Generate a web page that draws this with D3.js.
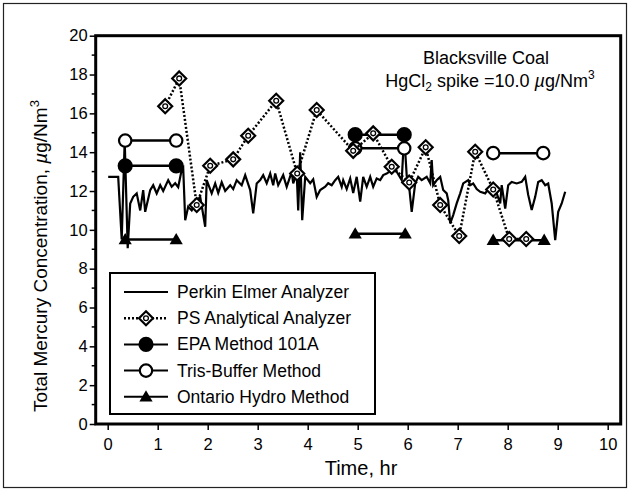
<!DOCTYPE html>
<html>
<head>
<meta charset="utf-8">
<script src="https://cdn.jsdelivr.net/npm/d3@7"></script>
<style>
  body { margin: 0; background: #fff; }
  text { font-family: "Liberation Sans", Arial, Helvetica, sans-serif; fill: #000; }
</style>
</head>
<body>
<script>
"use strict";

// Perkin Elmer analyzer trace (time in hr, Hg in ug/Nm3)
const perkinTime = [0.01,0.21,0.28,0.34,0.40,0.45,0.51,0.58,0.65,0.71,0.75,0.85,0.91,0.98,1.05,1.11,1.21,1.28,1.35,1.41,
  1.48,1.51,1.55,1.61,1.68,1.78,1.85,1.95,1.98,2.08,2.15,2.21,2.28,2.35,2.45,2.51,2.58,2.68,2.75,2.85,
  2.91,2.98,3.05,3.11,3.18,3.25,3.31,3.35,3.41,3.51,3.58,3.68,3.71,3.78,3.81,3.85,3.89,3.95,4.05,4.11,
  4.18,4.25,4.35,4.41,4.48,4.55,4.61,4.68,4.71,4.78,4.85,4.91,4.98,5.05,5.11,5.18,5.25,5.31,5.38,5.45,
  5.51,5.58,5.68,5.78,5.88,5.93,5.98,6.03,6.08,6.15,6.21,6.28,6.38,6.45,6.48,6.51,6.58,6.65,6.71,6.78,
  6.81,6.85,6.91,6.98,7.05,7.11,7.21,7.25,7.31,7.38,7.45,7.55,7.61,7.68,7.78,7.85,7.88,7.95,8.01,8.08,
  8.18,8.28,8.35,8.41,8.48,8.55,8.61,8.68,8.75,8.81,8.88,8.95,9.01,9.08,9.15]
const perkinHg = [12.73,12.73,9.5,14.6,9.05,11.36,11.7,11.88,11.0,12.05,10.93,12.05,12.3,11.88,12.3,12.0,12.56,12.22,12.4,12.2,
  13.1,13.2,10.5,11.19,11.0,11.5,11.7,10.16,12.56,11.88,12.39,11.9,12.45,12.0,12.3,12.1,12.56,12.3,12.82,12.05,
  10.85,12.39,12.56,12.82,12.4,12.9,12.3,12.9,12.3,12.82,12.22,12.99,12.4,12.9,11.0,14.0,10.5,12.73,12.4,12.6,
  11.7,12.05,12.22,12.4,12.3,12.56,12.73,12.22,12.56,12.1,12.65,11.9,12.73,11.45,12.73,12.22,12.73,12.22,12.65,12.56,
  12.82,12.9,13.08,12.99,12.56,14.9,12.8,12.2,10.93,12.39,12.73,12.56,12.73,12.4,13.6,12.3,12.56,12.73,12.05,11.88,
  11.53,10.33,10.76,11.36,11.88,12.39,12.56,12.3,12.39,12.1,11.96,11.88,12.1,12.2,11.88,11.36,12.3,11.1,12.3,12.47,
  12.39,12.47,12.73,11.8,11.02,11.7,12.47,12.56,12.3,12.39,11.36,9.47,10.93,11.36,11.96]

// PS Analytical analyzer
const psTime = [1.15,1.43,1.78,2.05,2.51,2.81,3.37,3.79,4.18,4.91,5.31,5.68,6.03,6.36,6.65,7.03,7.35,7.71,8.03,8.37]
const psHg = [16.37,17.8,11.28,13.3,13.63,14.85,16.65,12.9,16.17,14.07,14.97,13.25,12.44,14.25,11.28,9.68,14.02,12.08,9.53,9.53]

// sampling runs: [start, end] in hr, and the run result
const epaRuns = [[0.35,1.37],[4.95,5.93]]
const epaHg = [13.3,14.9]
const trisRuns = [[0.35,1.37],[4.95,5.93],[7.71,8.71]]
const trisHg = [14.6,14.2,13.95]
const ontarioRuns = [[0.35,1.37],[4.95,5.95],[7.71,8.73]]
const ontarioHg = [9.5,9.8,9.47]

const xTicks = [0,1,2,3,4,5,6,7,8,9,10]
const yTicks = [0,2,4,6,8,10,12,14,16,18,20]
const yMinor = [1,3,5,7,9,11,13,15,17,19]
const legendNames = ["Perkin Elmer Analyzer","PS Analytical Analyzer","EPA Method 101A","Tris-Buffer Method","Ontario Hydro Method"]

const W = 630, H = 491
const svg = d3.select("body").append("svg").attr("width", W).attr("height", H)

// outer frame
svg.append("rect").attr("x", 3.5).attr("y", 3.5).attr("width", W - 7).attr("height", H - 7)
  .attr("fill", "none").attr("stroke", "#222").attr("stroke-width", 1.2)

const x = d3.scaleLinear().domain([-0.24, 10.26]).range([95.7, 620.7])
const y = d3.scaleLinear().domain([0, 20]).range([424, 35.7])

// markers
const diamond = "M0,-7L7,0L0,7L-7,0Z"
const tri = d3.symbol().type(d3.symbolTriangle).size(75)

function drawDiamond(g, cx, cy) {
  g.append("path").attr("d", diamond).attr("transform", `translate(${cx},${cy})`)
    .attr("fill", "#fff").attr("stroke", "#000").attr("stroke-width", 2.2)
  g.append("circle").attr("cx", cx).attr("cy", cy).attr("r", 2.4)
    .attr("fill", "#fff").attr("stroke", "#000").attr("stroke-width", 1.3)
}
function drawCircle(g, cx, cy, filled) {
  g.append("circle").attr("cx", cx).attr("cy", cy).attr("r", filled ? 6.5 : 6.2)
    .attr("fill", filled ? "#000" : "#fff").attr("stroke", "#000").attr("stroke-width", 2.2)
}
function drawTri(g, cx, cy) {
  g.append("path").attr("d", tri).attr("transform", `translate(${cx},${cy + 1})`).attr("fill", "#000")
}

// axes
const yAxis = d3.axisLeft(y).tickValues(yTicks).tickSize(6).tickPadding(2).tickFormat(d3.format("d"))
const gy = svg.append("g").attr("transform", `translate(${x.range()[0]},0)`).call(yAxis)
gy.selectAll(".tick line").attr("stroke-width", 1.5)
svg.append("g").selectAll("line").data(yMinor).join("line")
  .attr("x1", x.range()[0] - 4).attr("x2", x.range()[0])
  .attr("y1", d => y(d)).attr("y2", d => y(d))
  .attr("stroke", "#000").attr("stroke-width", 1.5)

const xAxis = d3.axisBottom(x).tickValues(xTicks).tickSize(6).tickPadding(8).tickFormat(d3.format("d"))
const gx = svg.append("g").attr("transform", `translate(0,${y.range()[0]})`).call(xAxis)
gx.selectAll(".tick line").attr("stroke-width", 1.5)

for (const g of [gx, gy]) {
  g.select(".domain").remove()
  g.selectAll("text").attr("font-size", 16.5).attr("font-family", "Liberation Sans, Arial, sans-serif")
}

// plot box
svg.append("rect")
  .attr("x", x.range()[0]).attr("y", y.range()[1])
  .attr("width", x.range()[1] - x.range()[0]).attr("height", y.range()[0] - y.range()[1])
  .attr("fill", "none").attr("stroke", "#000").attr("stroke-width", 3)

// axis titles
svg.append("text").attr("x", 361).attr("y", 475)
  .attr("text-anchor", "middle").attr("font-size", 20).text("Time, hr")

const yt = svg.append("text").attr("transform", "translate(47,256) rotate(-90)")
  .attr("text-anchor", "middle").attr("font-size", 19)
yt.append("tspan").text("Total Mercury Concentration, ")
yt.append("tspan").attr("font-style", "italic").text("\u00b5")
yt.append("tspan").text("g/Nm")
yt.append("tspan").attr("font-size", 13).attr("dy", -8).text("3")

// annotation
svg.append("text").attr("x", 486).attr("y", 64).attr("text-anchor", "middle")
  .attr("font-size", 18).text("Blacksville Coal")
const ann = svg.append("text").attr("x", 490).attr("y", 87).attr("text-anchor", "middle").attr("font-size", 18)
ann.append("tspan").text("HgCl")
ann.append("tspan").attr("font-size", 12).attr("dy", 4).text("2")
ann.append("tspan").attr("dy", -4).text(" spike =10.0 ")
ann.append("tspan").attr("font-style", "italic").text("\u00b5")
ann.append("tspan").text("g/Nm")
ann.append("tspan").attr("font-size", 12).attr("dy", -8).text("3")

const plot = svg.append("g")

// Perkin Elmer trace
const line = d3.line().x(d => x(d[0])).y(d => y(d[1]))
plot.append("path").datum(d3.zip(perkinTime, perkinHg)).attr("d", line)
  .attr("fill", "none").attr("stroke", "#000").attr("stroke-width", 2.2)

// sampling run bars
function runs(times, vals, marker) {
  times.forEach((r, i) => {
    plot.append("line").attr("x1", x(r[0])).attr("x2", x(r[1]))
      .attr("y1", y(vals[i])).attr("y2", y(vals[i]))
      .attr("stroke", "#000").attr("stroke-width", 2.5)
    marker(plot, x(r[0]), y(vals[i]))
    marker(plot, x(r[1]), y(vals[i]))
  })
}
runs(ontarioRuns, ontarioHg, drawTri)
runs(trisRuns, trisHg, (g, a, b) => drawCircle(g, a, b, false))
runs(epaRuns, epaHg, (g, a, b) => drawCircle(g, a, b, true))

// PS Analytical dotted trace
plot.append("path").datum(d3.zip(psTime, psHg)).attr("d", line)
  .attr("fill", "none").attr("stroke", "#000").attr("stroke-width", 2.5).attr("stroke-dasharray", "2,2")
psTime.forEach((t, i) => drawDiamond(plot, x(t), y(psHg[i])))

// legend
const lg = svg.append("g")
lg.append("rect").attr("x", 110).attr("y", 273).attr("width", 265).attr("height", 141)
  .attr("fill", "#fff").attr("stroke", "#000").attr("stroke-width", 2)
legendNames.forEach((name, i) => {
  const cy = 292 + i * 26.2
  const row = lg.append("g")
  row.append("line").attr("x1", 124).attr("x2", 168).attr("y1", cy).attr("y2", cy)
    .attr("stroke", "#000").attr("stroke-width", i === 1 ? 2.5 : 2)
    .attr("stroke-dasharray", i === 1 ? "2,2" : null)
  if (i === 1) drawDiamond(row, 146, cy)
  if (i === 2) drawCircle(row, 146, cy, true)
  if (i === 3) drawCircle(row, 146, cy, false)
  if (i === 4) drawTri(row, 146, cy)
  row.append("text").attr("x", 177).attr("y", cy + 6).attr("font-size", 17.5).text(name)
})
</script>
</body>
</html>
